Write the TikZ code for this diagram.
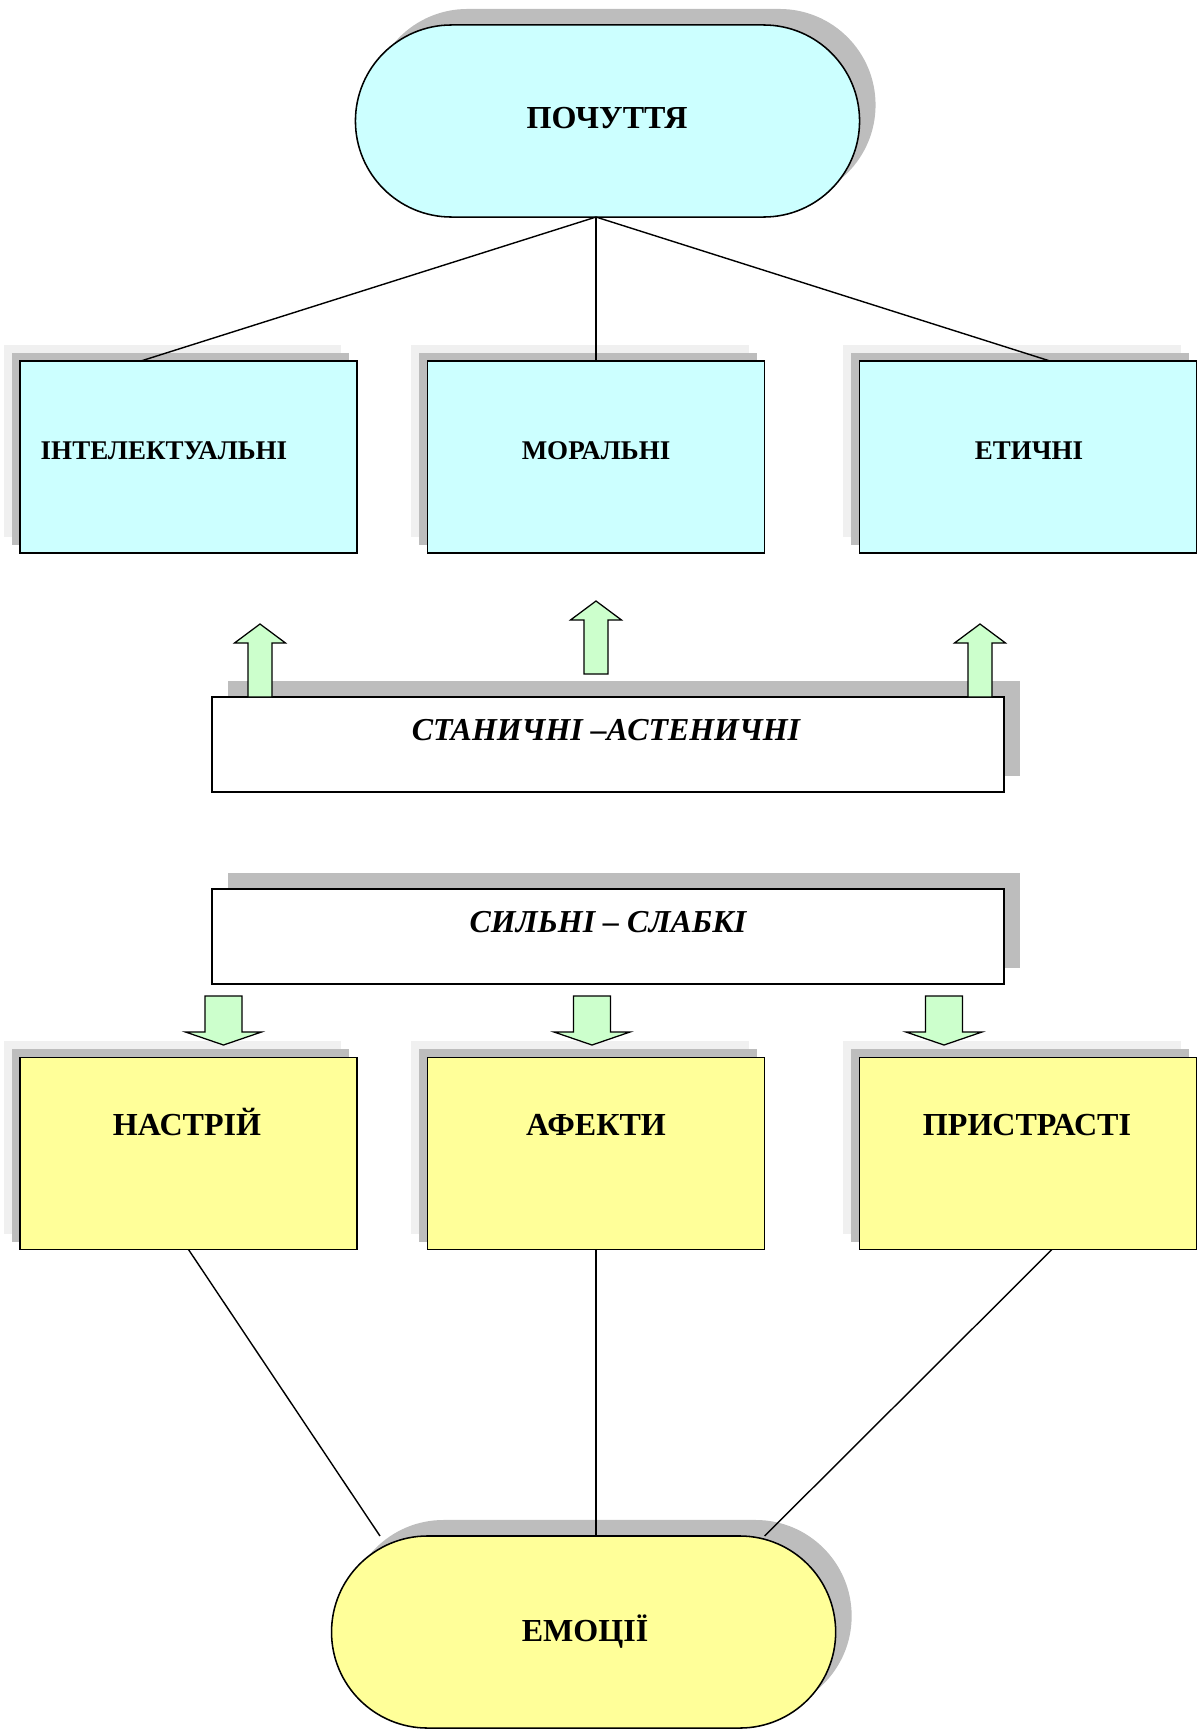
\documentclass[tikz,border=0pt]{standalone}
\usepackage{fontspec}
\setmainfont{Liberation Serif}
\usetikzlibrary{calc,backgrounds}
\definecolor{cyanfill}{HTML}{CCFFFF}
\definecolor{yellowfill}{HTML}{FFFF99}
\definecolor{greenfill}{HTML}{CCFFCC}
\definecolor{shdark}{HTML}{BDBDBD}
\definecolor{shlight}{HTML}{F0F0F0}
\tikzset{
  boxsty/.style={draw=black, line width=1.1pt, minimum width=8.425cm, minimum height=4.8cm, inner sep=0pt, outer sep=0pt},
  cyanbox/.style={boxsty, fill=cyanfill},
  yellowbox/.style={boxsty, fill=yellowfill},
  stadium/.style={draw=black, line width=1.1pt, minimum width=12.6cm, minimum height=4.8cm, rounded corners=2.4cm, inner sep=0pt, outer sep=0pt},
  widebox/.style={draw=black, line width=1.1pt, fill=white, minimum width=19.8cm, minimum height=2.375cm, inner sep=0pt, outer sep=0pt},
  smalltxt/.style={anchor=base, inner sep=0pt, font=\fontsize{19.2}{23}\selectfont\bfseries},
  bigtxt/.style={anchor=base, inner sep=0pt, font=\fontsize{22.8}{27}\selectfont\bfseries},
  itxt/.style={anchor=base, inner sep=0pt, font=\fontsize{22.7}{27}\selectfont\bfseries\itshape},
  conn/.style={draw=black, line width=1pt},
  arrowsty/.style={draw=black, line width=0.9pt, fill=greenfill, line join=miter},
  uparr/.pic={\path[arrowsty] (0,0) -- (25.5,19) -- (12,19) -- (12,73) -- (-12,73) -- (-12,19) -- (-25.5,19) -- cycle;},
  downarr/.pic={\path[arrowsty] (0,0) -- (38,-13) -- (18.5,-13) -- (18.5,-49) -- (-18.5,-49) -- (-18.5,-13) -- (-38,-13) -- cycle;}
}
\begin{document}
\begin{tikzpicture}[x=0.025cm, y=-0.025cm]
\useasboundingbox (0,0) rectangle (1197,1729);

% main shapes
\node[stadium, fill=cyanfill] (top) at (607.5,121) {};
\node[cyanbox] (b1) at (188.5,457) {};
\node[cyanbox] (b2) at (596,457) {};
\node[cyanbox] (b3) at (1028,457) {};
\node[widebox] (s1) at (608,744.5) {};
\node[widebox] (s2) at (608,936.5) {};
\node[yellowbox] (b4) at (188.5,1153.5) {};
\node[yellowbox] (b5) at (596,1153.5) {};
\node[yellowbox] (b6) at (1028,1153.5) {};
\node[stadium, fill=yellowfill] (emo) at (583.6,1632) {};

% shadows
\begin{pgfonlayer}{background}
  \fill[shdark, rounded corners=2.4cm] ($(top.south west)+(16,-16)$) rectangle ($(top.north east)+(16,-16)$);
  \fill[shdark, rounded corners=2.4cm] ($(emo.south west)+(16,-16)$) rectangle ($(emo.north east)+(16,-16)$);
  \foreach \b in {b1,b2,b3,b4,b5,b6}{
    \fill[shlight] ($(\b.south west)+(-16,-16)$) rectangle ($(\b.north east)+(-16,-16)$);
    \fill[shdark] ($(\b.south west)+(-8,-8)$) rectangle ($(\b.north east)+(-8,-8)$);
  }
  \fill[shdark] ($(s1.south west)+(16,-16)$) rectangle ($(s1.north east)+(16,-16)$);
  \fill[shdark] ($(s2.south west)+(16,-16)$) rectangle ($(s2.north east)+(16,-16)$);
\end{pgfonlayer}

% texts
\node[bigtxt] (tTop) at (607,128) {ПОЧУТТЯ};
\node[smalltxt] (t1) at (164,459) {ІНТЕЛЕКТУАЛЬНІ};
\node[smalltxt] (t2) at (596,459) {МОРАЛЬНІ};
\node[smalltxt] (t3) at (1029,459) {ЕТИЧНІ};
\node[itxt] (ts1) at (606,740) {СТАНИЧНІ –АСТЕНИЧНІ};
\node[itxt] (ts2) at (608,932) {СИЛЬНІ – СЛАБКІ};
\node[bigtxt] (t4) at (187,1135) {НАСТРІЙ};
\node[bigtxt] (t5) at (596,1135) {АФЕКТИ};
\node[bigtxt] (t6) at (1027,1135) {ПРИСТРАСТІ};
\node[bigtxt] (tEmo) at (585,1641) {ЕМОЦІЇ};

% connectors
\coordinate (apex) at (b2.north |- top.south);
\draw[conn] (apex) -- ($(b1.north west)!0.359!(b1.north east)$);
\draw[conn] (apex) -- (b2.north);
\draw[conn] (apex) -- ($(b3.north west)!0.565!(b3.north east)$);
\coordinate (eL) at ($(emo.north)+(-203.6,0)$);
\coordinate (eR) at ($(emo.north)+(181,0)$);
\draw[conn] (b4.south) -- (eL);
\draw[conn] (b5.south) -- (b5.south |- emo.north);
\draw[conn] ($(b6.south west)!0.571!(b6.south east)$) -- (eR);

% block arrows
\pic at (260,624) {uparr};
\pic at (596,601) {uparr};
\pic at (980,624) {uparr};
\pic at (223.5,1045) {downarr};
\pic at (592,1045) {downarr};
\pic at (944,1045) {downarr};
\end{tikzpicture}
\end{document}
